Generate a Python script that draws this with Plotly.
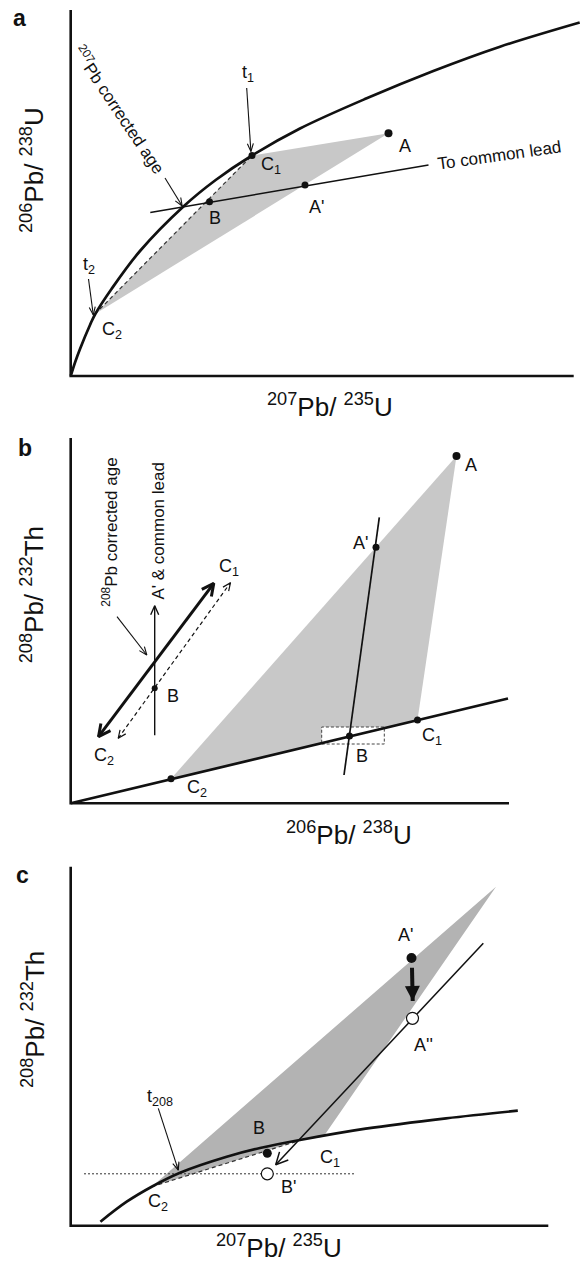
import math
import plotly.graph_objects as go

FONT = "Liberation Sans, Arial, Helvetica, sans-serif"
FIG_W, FIG_H = 580, 1266
INK = "#111111"
GRAY_AB = "#c8c8c8"
GRAY_C = "#b3b3b3"

# ================= DATA (arbitrary ratio units, no ticks in the original) =================
# ---- panel a : 206Pb/238U vs 207Pb/235U ----
a_axis_x = [0, 503]
a_axis_y = [0, 366]
a_conc_x = [0, 4.5, 9.3, 19.3, 24.3, 40.8, 69.3, 113.3, 145.0, 181.3, 229.3, 296.0, 362.6, 429.3, 509.0]
a_conc_y = [0, 14.0, 27.0, 51.0, 61.5, 87.0, 125.0, 170.0, 196.0, 220.5, 247.5, 277.7, 305.0, 329.3, 353.5]
a_C1 = [181.3, 220.5]
a_C2 = [24.3, 62.0]
a_B = [138.8, 174.3]
a_A = [317.8, 242.7]
a_Ap = [234.3, 191.0]
a_lead_x = [79.6, 357.8]
a_lead_y = [163.5, 211.0]
a_t1_arrow = [[176.0, 288.0], [180.2, 224.5]]
a_t2_arrow = [[17.8, 97.0], [22.6, 61.0]]
a_age_arrow = [[94.3, 198.0], [111.5, 170.0]]

# ---- panel b : 208Pb/232Th vs 206Pb/238U ----
b_axis_x = [0, 438.3]
b_axis_y = [0, 365.3]
b_th_x = [0, 437.3]
b_th_y = [0, 104.8]
b_C1 = [346.8, 83.3]
b_C2 = [100.3, 24.5]
b_B = [278.8, 67.3]
b_A = [385.8, 347.3]
b_Ap = [305.3, 256.0]
b_steep_x = [308.6, 273.3]
b_steep_y = [286.0, 28.3]
b_box_x = [251.0, 313.6]
b_box_y = [59.3, 76.3]
b_inset_vert = [[84.0, 68.0], [84.0, 197.5]]
b_inset_B = [84.0, 115.0]
b_inset_thick = [[27.8, 66.6], [143.1, 220.0]]
b_inset_dash = [[47.5, 65.0], [159.8, 220.6]]
b_age_arrow = [[46.3, 186.6], [76.1, 148.3]]

# ---- panel c : 208Pb/232Th vs 207Pb/235U ----
c_axis_x = [0, 477.6]
c_axis_y = [0, 359.0]
c_curve_x = [29.7, 56.0, 81.0, 109.3, 156.0, 189.3, 229.3, 295.0, 375.4, 447.1]
c_curve_y = [4.0, 24.0, 39.0, 53.0, 69.0, 77.7, 85.7, 97.0, 107.4, 115.0]
c_C1 = [229.3, 85.4]
c_C2 = [81.0, 39.0]
c_top = [425.3, 339.0]
c_right = [252.7, 89.0]
c_Ap = [340.8, 267.7]
c_App = [341.8, 207.4]
c_B = [196.6, 72.4]
c_Bp = [196.6, 51.9]
c_hline_x = [13.3, 285.3]
c_hline_y = [51.9, 51.9]
c_line_arrow = [[412.6, 282.4], [205.0, 61.0]]
c_drop_arrow = [[341.3, 258.0], [342.0, 224.7]]
c_t208_arrow = [[87.6, 117.4], [107.6, 55.5]]

# ================= FIGURE =================
fig = go.Figure()
AX = {"a": ("x", "y"), "b": ("x2", "y2"), "c": ("x3", "y3")}


def line(p, xs, ys, width=1.5, color=INK, dash=None, shape="linear", fill=None, fillcolor=None):
    xa, ya = AX[p]
    fig.add_trace(go.Scatter(
        x=xs, y=ys, mode="lines", xaxis=xa, yaxis=ya, hoverinfo="skip", showlegend=False,
        line=dict(width=width, color=color, dash=dash, shape=shape, smoothing=1.0),
        fill=fill, fillcolor=fillcolor))


def poly(p, pts, color):
    xs = [q[0] for q in pts] + [pts[0][0]]
    ys = [q[1] for q in pts] + [pts[0][1]]
    line(p, xs, ys, width=0, color=color, fill="toself", fillcolor=color)


def dots(p, pts, size=7, color=INK, edge=INK, ew=0):
    xa, ya = AX[p]
    fig.add_trace(go.Scatter(
        x=[q[0] for q in pts], y=[q[1] for q in pts], mode="markers", xaxis=xa, yaxis=ya,
        hoverinfo="skip", showlegend=False,
        marker=dict(size=size, color=color, line=dict(width=ew, color=edge))))


def head(p, tail, tip, L, Wd, width, filled=False):
    dx, dy = tip[0] - tail[0], tip[1] - tail[1]
    n = math.hypot(dx, dy)
    ux, uy = dx / n, dy / n
    nx, ny = -uy, ux
    p1 = (tip[0] - L * ux + Wd * nx, tip[1] - L * uy + Wd * ny)
    p2 = (tip[0] - L * ux - Wd * nx, tip[1] - L * uy - Wd * ny)
    if filled:
        poly(p, [p1, tip, p2], INK)
    else:
        line(p, [p1[0], tip[0], p2[0]], [p1[1], tip[1], p2[1]], width=width)


def arrow(p, seg, width=1.2, L=8, Wd=3.5, dash=None, double=False, filled=False):
    tail, tip = seg
    line(p, [tail[0], tip[0]], [tail[1], tip[1]], width=width, dash=dash)
    head(p, tail, tip, L, Wd, width, filled)
    if double:
        head(p, tip, tail, L, Wd, width, filled)


annos = []


def label(p, xy, text, size=18, angle=0, color=INK):
    xa, ya = AX[p]
    annos.append(dict(x=xy[0], y=xy[1], xref=xa, yref=ya, text=text, showarrow=False,
                      textangle=angle, xanchor="center", yanchor="middle",
                      font=dict(family=FONT, size=size, color=color)))


def axes(p, ax_x, ax_y):
    line(p, [0, 0, ax_x[1]], [ax_y[1], 0, 0], width=2.6)


# ---------------- panel a ----------------
poly("a", [a_C2, a_C1, a_A], GRAY_AB)
line("a", [a_C2[0], a_C1[0]], [a_C2[1], a_C1[1]], width=1.2, color="#333333", dash="4px,3px")
line("a", a_conc_x, a_conc_y, width=2.7, shape="spline")
axes("a", a_axis_x, a_axis_y)
line("a", a_lead_x, a_lead_y, width=1.5)
arrow("a", a_t1_arrow, width=1.1, L=8, Wd=3)
arrow("a", a_t2_arrow, width=1.1, L=8, Wd=3)
arrow("a", a_age_arrow, width=1.1, L=8, Wd=3.2)
dots("a", [a_C1, a_B, a_Ap], size=7)
dots("a", [a_A], size=8)

label("a", [-51.5, 358], "<b>a</b>", size=23)
label("a", [259, -29], "<sup>207</sup>Pb/ <sup>235</sup>U", size=26)
label("a", [-38.7, 206], "<sup>206</sup>Pb/ <sup>238</sup>U", size=26, angle=-90)
label("a", [48.5, 267], "<sup>207</sup>Pb corrected age", size=17, angle=56)
label("a", [428.5, 221], "To common lead", size=17, angle=-8)
label("a", [177.3, 303], "t<sub>1</sub>")
label("a", [17.8, 111], "t<sub>2</sub>")
label("a", [200, 211], "C<sub>1</sub>")
label("a", [41, 46], "C<sub>2</sub>")
label("a", [144.3, 158], "B")
label("a", [245.3, 169.3], "A'")
label("a", [334, 230.3], "A")

# ---------------- panel b ----------------
poly("b", [b_C2, b_A, b_C1], GRAY_AB)
line("b", [b_box_x[0], b_box_x[1], b_box_x[1], b_box_x[0], b_box_x[0]],
     [b_box_y[0], b_box_y[0], b_box_y[1], b_box_y[1], b_box_y[0]],
     width=1.0, color="#444444", dash="3px,2px", fill="toself", fillcolor="white")
axes("b", b_axis_x, b_axis_y)
line("b", b_th_x, b_th_y, width=2.7)
line("b", b_steep_x, b_steep_y, width=1.7)
arrow("b", b_inset_vert, width=1.4, L=9, Wd=4)
arrow("b", b_inset_thick, width=3.0, L=12, Wd=6, double=True)
arrow("b", b_inset_dash, width=1.2, L=8, Wd=3.5, dash="4px,3px", double=True)
arrow("b", b_age_arrow, width=1.1, L=8, Wd=3.2)
dots("b", [b_C1, b_C2, b_B, b_Ap], size=7)
dots("b", [b_A], size=8)
dots("b", [b_inset_B], size=6)

label("b", [-45.7, 355.3], "<b>b</b>", size=23)
label("b", [278.3, -29.7], "<sup>206</sup>Pb/ <sup>238</sup>U", size=26)
label("b", [-38.7, 208], "<sup>208</sup>Pb/ <sup>232</sup>Th", size=26, angle=-90)
label("b", [38.5, 270.8], "<sup>208</sup>Pb corrected age", size=17, angle=-90)
label("b", [86.8, 272.3], "A' &amp; common lead", size=17, angle=-90)
label("b", [400, 338.3], "A")
label("b", [289.3, 260.6], "A'")
label("b", [291, 47.3], "B")
label("b", [361, 66.6], "C<sub>1</sub>")
label("b", [126.3, 15], "C<sub>2</sub>")
label("b", [102.2, 107.3], "B")
label("b", [158, 236], "C<sub>1</sub>")
label("b", [33.3, 46.6], "C<sub>2</sub>")

# ---------------- panel c ----------------
poly("c", [c_C2, c_top, c_right, c_C1], GRAY_C)
axes("c", c_axis_x, c_axis_y)
line("c", c_hline_x, c_hline_y, width=1.0, color="#333333", dash="2px,2px")
line("c", [c_C2[0], c_C1[0]], [c_C2[1], c_C1[1]], width=1.2, color="#333333", dash="4px,3px")
line("c", c_curve_x, c_curve_y, width=2.7, shape="spline")
arrow("c", c_line_arrow, width=1.5, L=12, Wd=6)
arrow("c", c_t208_arrow, width=1.1, L=8, Wd=3.2)
arrow("c", c_drop_arrow, width=4.0, L=15, Wd=7.5, filled=True)
dots("c", [c_Ap], size=10)
dots("c", [c_B], size=9)
dots("c", [c_App, c_Bp], size=12, color="white", edge=INK, ew=1.2)

label("c", [-48, 350.7], "<b>c</b>", size=23)
label("c", [208.3, -20.3], "<sup>207</sup>Pb/ <sup>235</sup>U", size=26)
label("c", [-37.7, 205.7], "<sup>208</sup>Pb/ <sup>232</sup>Th", size=26, angle=-90)
label("c", [89.3, 128.7], "t<sub>208</sub>")
label("c", [188.6, 97.4], "B")
label("c", [259.3, 67.7], "C<sub>1</sub>")
label("c", [87.6, 23.2], "C<sub>2</sub>")
label("c", [217.6, 39], "B'")
label("c", [334.3, 290.7], "A'")
label("c", [353.1, 180.7], "A''")

# ---------------- layout ----------------
def ax(domain, rng, anchor):
    return dict(domain=domain, range=rng, anchor=anchor, visible=False, showgrid=False,
                zeroline=False, fixedrange=True)

fa = 1 - 420 / FIG_H
fb = 1 - 840 / FIG_H
fig.update_layout(
    width=FIG_W, height=FIG_H, autosize=False,
    margin=dict(l=0, r=0, t=0, b=0, pad=0),
    paper_bgcolor="white", plot_bgcolor="white",
    showlegend=False,
    xaxis=ax([0, 1], [-70.7, 509.3], "y"),
    yaxis=ax([fa, 1], [-44, 376], "x"),
    xaxis2=ax([0, 1], [-70.7, 509.3], "y2"),
    yaxis2=ax([fb, fa], [-36.7, 383.3], "x2"),
    xaxis3=ax([0, 1], [-70.7, 509.3], "y3"),
    yaxis3=ax([0, fb], [-40.3, 385.7], "x3"),
    annotations=annos,
    font=dict(family=FONT, color=INK),
)

fig.write_html("out.html", config={"displayModeBar": False})
